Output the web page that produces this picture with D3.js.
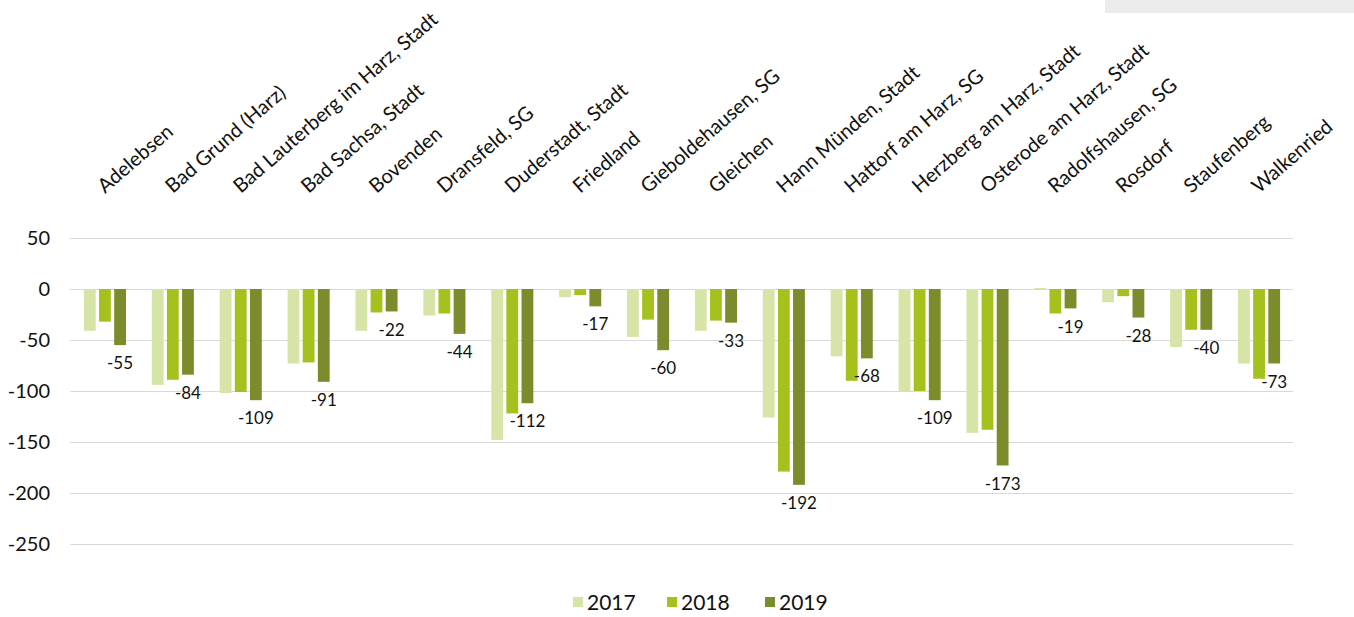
<!DOCTYPE html>
<html>
<head>
	<meta charset="utf-8">
	<title></title>
	<style type="text/css">
		body {
			margin: 0;
			background-color: #fff;
		}
		.viz {
			display: block;
		}
		text {
			font-family: Lato, "Open Sans", sans-serif;
			fill: #111;
		}
	</style>
</head>
<body>
	<svg class="viz" width="1354" height="617"></svg>

	<script src="https://cdn.jsdelivr.net/npm/d3@7"></script>
	<script type="text/javascript">

		// chart data
		var categories = ['Adelebsen', 'Bad Grund (Harz)', 'Bad Lauterberg im Harz, Stadt', 'Bad Sachsa, Stadt',
			'Bovenden', 'Dransfeld, SG', 'Duderstadt, Stadt', 'Friedland', 'Gieboldehausen, SG', 'Gleichen',
			'Hann Münden, Stadt', 'Hattorf am Harz, SG', 'Herzberg am Harz, Stadt', 'Osterode am Harz, Stadt',
			'Radolfshausen, SG', 'Rosdorf', 'Staufenberg', 'Walkenried'];
		var years = ['2017', '2018', '2019'];
		var values2017 = [-41, -94, -102, -73, -41, -26, -148, -8, -47, -41, -126, -66, -100, -141, 1, -13, -57, -73];
		var values2018 = [-32, -89, -101, -72, -23, -24, -122, -6, -30, -31, -179, -90, -100, -138, -24, -7, -40, -88];
		var values2019 = [-55, -84, -109, -91, -22, -44, -112, -17, -60, -33, -192, -68, -109, -173, -19, -28, -40, -73];
		var yTicks = [50, 0, -50, -100, -150, -200, -250];
		var colors = ['#d7e4a7', '#a4c11d', '#7b8c2c'];

		var series = [values2017, values2018, values2019];
		var canvas = d3.select('.viz');

		// grey box in the corner
		canvas.append('rect')
			.attr('x', 1105).attr('y', 0)
			.attr('width', 249).attr('height', 13)
			.attr('fill', '#ebebeb');

		// scales
		var x = d3.scaleBand()
			.domain(categories)
			.range([71, 1293])
			.paddingInner(0.38)
			.paddingOuter(0.19);
		var xSub = d3.scaleBand()
			.domain(years)
			.range([0, x.bandwidth()])
			.paddingInner(0.22);
		var y = d3.scaleLinear()
			.domain([-250, 50])
			.range([544, 238]);

		// gridlines
		canvas.selectAll('line.grid').data(yTicks)
			.enter().append('line')
				.attr('class', 'grid')
				.attr('x1', 70)
				.attr('x2', 1293)
				.attr('y1', function(d) { return Math.round(y(d)) + 0.5; })
				.attr('y2', function(d) { return Math.round(y(d)) + 0.5; })
				.attr('stroke', '#d9d9d9')
				.attr('stroke-width', 1);

		// y axis labels (plain hyphen, like the original)
		var yAxis = canvas.append('g')
			.attr('transform', 'translate(50,0)')
			.call(d3.axisLeft(y).tickValues(yTicks).tickSize(0).tickPadding(0)
				.tickFormat(function(d) { return String(d); }));
		yAxis.select('.domain').remove();
		yAxis.selectAll('text')
			.attr('font-size', '20px')
			.attr('fill', '#111')
			.style('font-family', 'Lato, "Open Sans", sans-serif');

		// bars
		var groups = canvas.selectAll('g.cat').data(categories)
			.enter().append('g')
				.attr('class', 'cat')
				.attr('transform', function(d) { return 'translate(' + x(d) + ',0)'; });

		groups.selectAll('rect')
			.data(function(d, i) {
				return years.map(function(yr, j) { return { year: yr, value: series[j][i], idx: j }; });
			})
			.enter().append('rect')
				.attr('x', function(d) { return xSub(d.year); })
				.attr('width', xSub.bandwidth())
				.attr('y', function(d) { return y(Math.max(0, d.value)); })
				.attr('height', function(d) { return Math.abs(y(d.value) - y(0)); })
				.attr('fill', function(d) { return colors[d.idx]; });

		// value labels for 2019
		canvas.selectAll('text.val').data(values2019)
			.enter().append('text')
				.attr('class', 'val')
				.attr('x', function(d, i) { return x(categories[i]) + xSub('2019') + xSub.bandwidth() / 2; })
				.attr('y', function(d) { return y(d) + 18; })
				.attr('dy', '0.36em')
				.attr('text-anchor', 'middle')
				.attr('font-size', '17px')
				.text(function(d) { return d; });

		// category labels, rotated
		canvas.selectAll('text.cat').data(categories)
			.enter().append('text')
				.attr('class', 'cat')
				.attr('font-size', '20px')
				.attr('transform', function(d) {
					var cx = x(d) + x.bandwidth() / 2;
					return 'translate(' + cx + ',194) rotate(-41)';
				})
				.text(function(d) { return d; });

		// legend
		var legend = canvas.selectAll('g.legend').data(years)
			.enter().append('g')
				.attr('class', 'legend')
				.attr('transform', function(d, i) { return 'translate(' + [573, 667, 765][i] + ',597)'; });
		legend.append('rect')
			.attr('width', 10).attr('height', 10)
			.attr('fill', function(d, i) { return colors[i]; });
		legend.append('text')
			.attr('x', 14).attr('y', 5)
			.attr('dy', '0.36em')
			.attr('font-size', '21px')
			.text(function(d) { return d; });

	</script>
</body>
</html>
